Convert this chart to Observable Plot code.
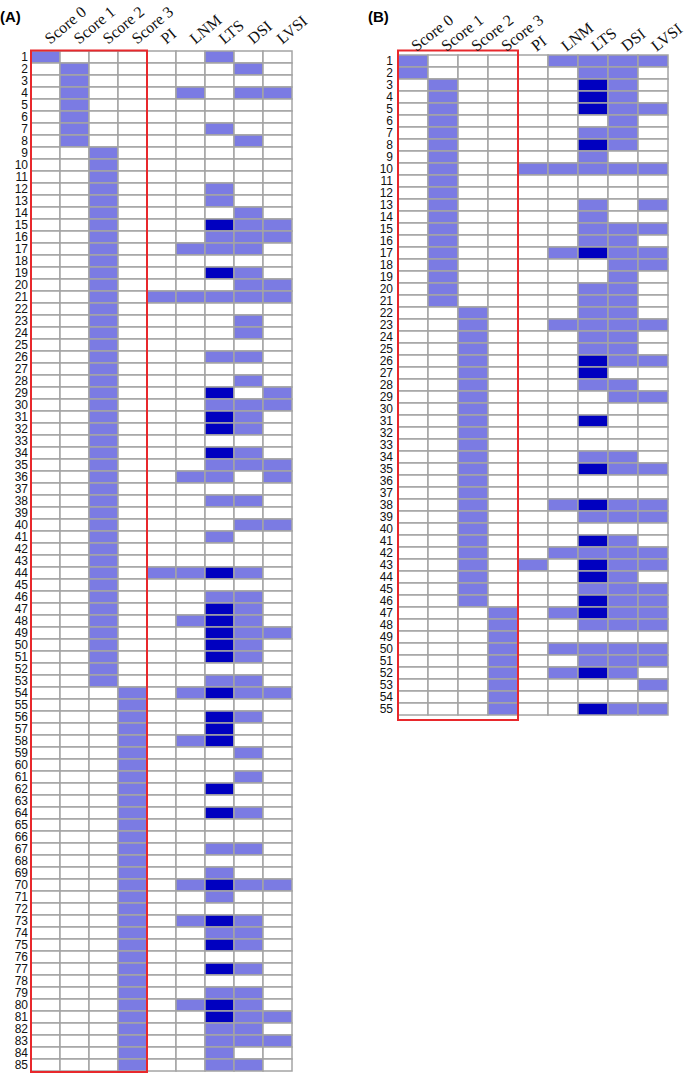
<!DOCTYPE html>
<html><head><meta charset="utf-8">
<script src="https://cdn.jsdelivr.net/npm/d3@7"></script>
<script src="https://cdn.jsdelivr.net/npm/@observablehq/plot@0.6"></script>
<style>
body{margin:0;background:#fff;width:685px;height:1074px;position:relative;overflow:hidden;font-family:"Liberation Sans",Arial,sans-serif}
.lab{position:absolute;font-weight:bold;font-size:15px;line-height:1}
.pan{position:absolute;top:0}
.pan svg{overflow:visible}
</style></head><body>
<div class="lab" style="left:0;top:9px">(A)</div>
<div class="lab" style="left:368px;top:9px">(B)</div>
<div id="a" class="pan" style="left:0"></div>
<div id="b" class="pan" style="left:360px"></div>
<script>
const columns = ["Score 0","Score 1","Score 2","Score 3","PI","LNM","LTS","DSI","LVSI"];
const scoreColumns = ["Score 0","Score 1","Score 2","Score 3"];
const featureColumns = ["PI","LNM","LTS","DSI","LVSI"];
// level per cell: 0 = absent (white), 1 = present (light), 2 = strong (dark)
const levelColors = ["#ffffff","#7b7be3","#0000c0"];

// Panel A: score group of each case (rows 1..85)
const scoreA = [
0,1,1,1,1,1,1,1,2,2,
2,2,2,2,2,2,2,2,2,2,
2,2,2,2,2,2,2,2,2,2,
2,2,2,2,2,2,2,2,2,2,
2,2,2,2,2,2,2,2,2,2,
2,2,2,3,3,3,3,3,3,3,
3,3,3,3,3,3,3,3,3,3,
3,3,3,3,3,3,3,3,3,3,
3,3,3,3,3];
// Panel A: PI, LNM, LTS, DSI, LVSI per case
const featuresA = [
"00100","00010","00000","01011","00000","00000","00100","00010","00000","00000",
"00000","00100","00100","00010","00211","00111","01110","00000","00210","00011",
"11111","00000","00010","00010","00000","00110","00000","00010","00201","00111",
"00210","00210","00000","00210","00111","01101","00000","00110","00000","00011",
"00100","00000","00000","11210","00000","00110","00210","01210","00211","00210",
"00210","00000","00110","01211","00000","00210","00200","01200","00010","00000",
"00010","00200","00000","00210","00000","00000","00110","00000","00100","01211",
"00100","00000","01210","00110","00210","00000","00210","00000","00110","01210",
"00211","00110","00111","00100","00110"];

// Panel B: score group of each case (rows 1..55)
const scoreB = [
0,0,1,1,1,1,1,1,1,1,
1,1,1,1,1,1,1,1,1,1,
1,2,2,2,2,2,2,2,2,2,
2,2,2,2,2,2,2,2,2,2,
2,2,2,2,2,2,3,3,3,3,
3,3,3,3,3];
const featuresB = [
"01111","00110","00210","00210","00211","00010","00110","00210","00100","11111",
"00000","00000","00101","00100","00111","00110","01211","00011","00010","00110",
"00110","00110","01111","00110","00110","00211","00200","00110","00011","00000",
"00200","00000","00000","00110","00211","00000","00000","01211","00111","00000",
"00210","01111","10211","00210","00111","00211","01211","00111","00000","01111",
"00111","01210","00001","00000","00211"];

function build(scores, features){
  const data = [];
  scores.forEach((s, i) => {
    const row = String(i + 1);
    scoreColumns.forEach((c, j) => data.push({row, col: c, v: s === j ? 1 : 0}));
    featureColumns.forEach((c, j) => data.push({row, col: c, v: +features[i][j]}));
  });
  return data;
}

function panel(o){
  const rows = o.scores.map((_, i) => String(i + 1));
  const data = build(o.scores, o.features);
  const redBox = (index, scales, values, dim) => {
    const x0 = scales.x("Score 0"), x1 = scales.x("PI");
    const y0 = dim.marginTop, y1 = dim.height - dim.marginBottom;
    return d3.create("svg:rect")
      .attr("x", x0).attr("y", y0).attr("width", x1 - x0).attr("height", y1 - y0 + 1)
      .attr("fill", "none").attr("stroke", "#e8282c").attr("stroke-width", 2).node();
  };
  return Plot.plot({
    width: o.width, height: o.height,
    marginLeft: o.marginLeft, marginRight: o.marginRight,
    marginTop: o.marginTop, marginBottom: o.marginBottom,
    style: {fontFamily: "Liberation Sans, Arial, sans-serif", background: "transparent", overflow: "visible"},
    x: {domain: columns, padding: 0, axis: null},
    y: {domain: rows, padding: 0, axis: null},
    color: {type: "ordinal", domain: [0, 1, 2], range: levelColors},
    marks: [
      Plot.cell(data, {x: "col", y: "row", fill: "v", stroke: "#a4a4a4", strokeWidth: 1.5}),
      redBox,
      Plot.text(rows, {y: d => d, frameAnchor: "left", textAnchor: "end", dx: -2.5, fontSize: o.rowFont, fill: "#111"}),
      Plot.text(columns, {x: d => d, frameAnchor: "top", textAnchor: "start", rotate: o.rotate,
        dx: o.headerDx, dy: o.headerDy, fontFamily: "Liberation Serif, Times New Roman, serif",
        fontSize: o.headerFont, fill: "#111"})
    ]
  });
}

document.getElementById("a").append(panel({
  scores: scoreA, features: featuresA,
  width: 340, height: 1074, marginLeft: 30, marginRight: 47.5, marginTop: 50.5, marginBottom: 3,
  rowFont: 12, headerFont: 16, rotate: -40, headerDx: -3, headerDy: -15
}));
document.getElementById("b").append(panel({
  scores: scoreB, features: featuresB,
  width: 325, height: 720, marginLeft: 35, marginRight: 13.3, marginTop: 50.5, marginBottom: 1,
  rowFont: 12, headerFont: 16, rotate: -38, headerDx: -4, headerDy: -8
}));
</script>
</body></html>
